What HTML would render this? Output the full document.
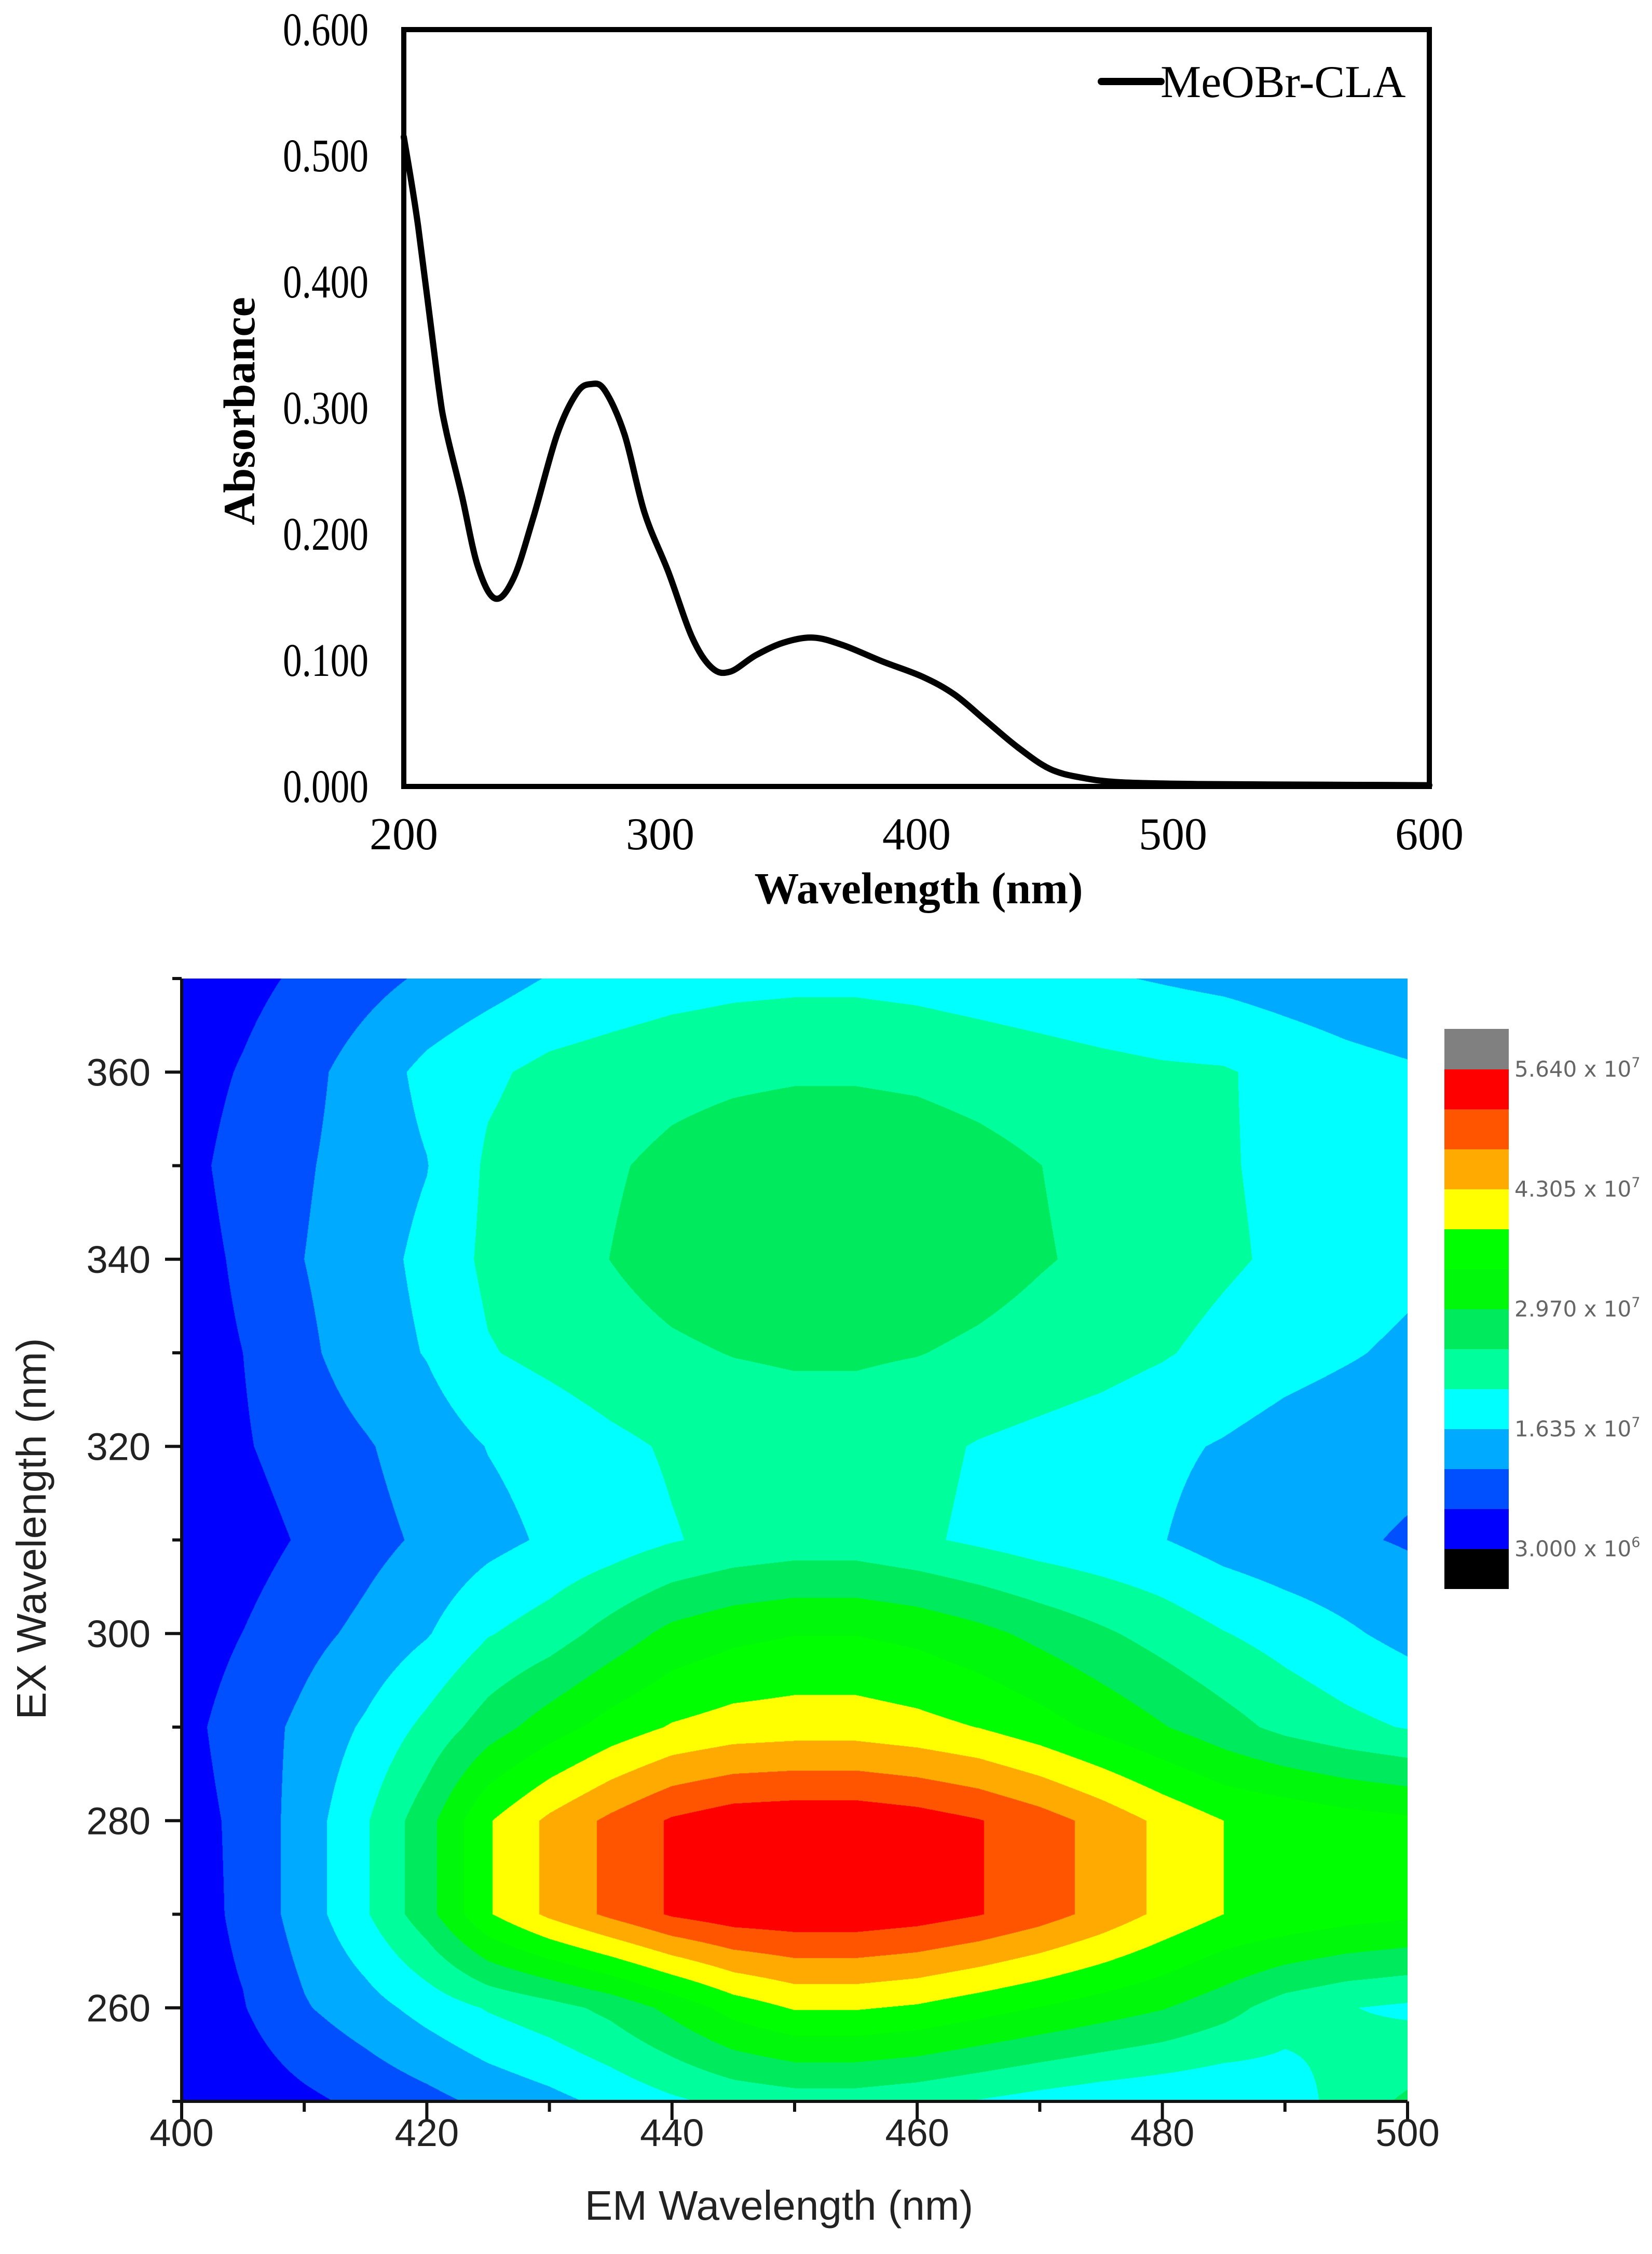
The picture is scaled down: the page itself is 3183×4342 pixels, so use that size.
<!DOCTYPE html>
<html><head><meta charset="utf-8"><style>
html,body{margin:0;padding:0;background:#fff;}
#root{position:relative;width:3183px;height:4342px;overflow:hidden;background:#fff;}
svg{position:absolute;left:0;top:0;}
</style></head><body>
<div id="root">
<svg id="top" width="3183" height="1800"></svg>
<canvas id="map" width="2362" height="2163" style="position:absolute;left:350px;top:1885px;"></canvas>
<svg id="bot" width="3183" height="4342" style="pointer-events:none"></svg>
</div>
<script>
// ---- Absorbance data ----
const wavelengths=[200,205.6,213.3,216.4,222.6,228.8,235.6,242.8,250.5,259.8,267.5,273.1,278.4,286.1,293.9,303.2,312.5,320.2,327.3,337.3,348.1,359.6,371.3,386.8,402.3,414.7,427.1,439.5,451.9,464.3,479.8,510.8,557.3,600];
const absorbance=[0.515,0.444,0.321,0.283,0.231,0.175,0.149,0.165,0.213,0.279,0.312,0.319,0.314,0.279,0.217,0.170,0.118,0.094,0.091,0.104,0.114,0.118,0.112,0.099,0.087,0.073,0.052,0.031,0.014,0.007,0.0033,0.0019,0.0014,0.001];
const yTicks=["0.000","0.100","0.200","0.300","0.400","0.500","0.600"];
const xTicks=["200","300","400","500","600"];
// ---- EEM data (x1e7) ----
const emValues=[400,405,410,415,420,425,430,435,440,445,450,455,460,465,470,475,480,485,490,495,500];
const exValues=[250,260,270,280,290,300,310,320,330,340,350,360,370];
const row250=[.30,.45,.65,.85,1.05,1.3,1.5,1.75,2.0,2.2,2.3,2.3,2.2,2.05,1.9,1.78,1.7,1.65,1.8,2.3,2.6];
const row260=[.5,.72,1.15,1.45,1.8,2.12,2.35,2.65,3.1,3.6,3.9,3.9,3.8,3.6,3.4,3.2,3.0,2.7,2.3,2.1,2.0];
const row270=[.5,.85,1.4,2.03,2.8,3.82,4.4,4.85,5.25,5.45,5.5,5.5,5.4,5.22,4.95,4.6,4.2,3.86,3.75,3.6,3.5];
const row280=[.55,.85,1.4,2.03,2.8,3.82,4.4,4.85,5.25,5.45,5.5,5.5,5.4,5.22,4.95,4.6,4.2,3.86,3.75,3.6,3.5];
const row290=[.6,.95,1.3,1.7,2.2,2.75,3.2,3.6,3.9,4.05,4.1,4.1,4.0,3.85,3.6,3.3,3.0,2.7,2.4,2.2,2.05];
const row300=[.5,.75,1.05,1.3,1.6,2.05,2.3,2.7,3.1,3.3,3.4,3.4,3.3,3.1,2.85,2.6,2.35,2.1,1.9,1.7,1.5];
const row310=[.35,.55,.8,1.05,1.27,1.5,1.7,1.85,2.05,2.2,2.28,2.28,2.15,2.0,1.85,1.75,1.65,1.45,1.33,1.25,1.15];
const row320=[.5,.7,.95,1.15,1.4,1.65,1.8,1.98,2.13,2.25,2.3,2.3,2.2,2.05,1.95,1.85,1.72,1.6,1.45,1.35,1.3];
const row330=[.55,.745,1.1,1.42,1.66,2.05,2.2,2.35,2.46,2.54,2.58,2.58,2.54,2.45,2.35,2.25,2.12,1.95,1.8,1.68,1.55];
const row340=[.55,.82,1.19,1.45,1.75,2.18,2.35,2.53,2.7,2.8,2.85,2.85,2.8,2.7,2.56,2.44,2.3,2.15,2.0,1.88,1.75];
const row350=[.6,.9,1.14,1.4,1.62,2.15,2.32,2.48,2.62,2.72,2.78,2.78,2.74,2.65,2.53,2.4,2.25,2.12,1.98,1.88,1.8];
const row360=[.55,.78,1.05,1.4,1.75,2.0,2.2,2.3,2.4,2.45,2.48,2.48,2.45,2.38,2.3,2.22,2.15,2.12,1.95,1.8,1.7];
const row370=[.5,.62,.82,1.04,1.26,1.45,1.66,1.78,1.88,1.95,1.98,1.98,1.93,1.85,1.77,1.68,1.6,1.52,1.42,1.32,1.22];
const levels=[0.3,0.745,1.19,1.635,2.08,2.525,2.97,3.415,3.86,4.305,4.75,5.195,5.64];
const bandColors=["#000000","#0000ff","#0050ff","#00aaff","#00ffff","#00ff9c","#00ea5e","#00f80a","#00ff00","#ffff00","#ffaa00","#ff5500","#ff0000","#808080"];
const cbLabels=["3.000 x 10","1.635 x 10","2.970 x 10","4.305 x 10","5.640 x 10"];
const cbExps=["6","7","7","7","7"];
const cbLabelLevels=[0.3,1.635,2.97,4.305,5.64];
const mapYTicks=[260,280,300,320,340,360];
const mapXTicks=[400,420,440,460,480,500];

const NS="http://www.w3.org/2000/svg";
function mk(parent,tag,attrs,text){const e=document.createElementNS(NS,tag);for(const k in attrs)e.setAttribute(k,attrs[k]);if(text!==undefined)e.textContent=text;parent.appendChild(e);return e;}

// ---- top chart ----
const T=document.getElementById('top');
const X0=778,X1=2754,Y0=1515,Y1=57;
const sx=w=>X0+(w-200)/400*(X1-X0);
const sy=a=>Y0-a/0.6*(Y0-Y1);
let fr=mk(T,'rect',{x:X0,y:Y1,width:X1-X0,height:Y0-Y1,fill:'none',stroke:'#000','stroke-width':10});

yTicks.forEach((t,i)=>{const e=mk(T,'text',{x:545,y:sy(i*0.1)+30,textLength:165,lengthAdjust:'spacingAndGlyphs','font-family':'Liberation Serif, serif','font-size':90},t);
});
xTicks.forEach((t,i)=>{const e=mk(T,'text',{x:sx(200+i*100),y:1636,'text-anchor':'middle','font-family':'Liberation Serif, serif','font-size':88},t);
});
let xt=mk(T,'text',{x:1770,y:1740,'text-anchor':'middle','font-family':'Liberation Serif, serif','font-size':86,'font-weight':'bold'},'Wavelength (nm)');

let yt=mk(T,'text',{x:0,y:0,transform:'translate(490,792) rotate(-90)','text-anchor':'middle','font-family':'Liberation Serif, serif','font-size':86,'font-weight':'bold'},'Absorbance');

const pts=wavelengths.map((w,i)=>[sx(w),sy(absorbance[i])]);
let d='M'+pts[0][0]+','+pts[0][1];
for(let i=0;i<pts.length-1;i++){const p0=pts[Math.max(0,i-1)],p1=pts[i],p2=pts[i+1],p3=pts[Math.min(pts.length-1,i+2)];
const c1=[p1[0]+(p2[0]-p0[0])/6,p1[1]+(p2[1]-p0[1])/6],c2=[p2[0]-(p3[0]-p1[0])/6,p2[1]-(p3[1]-p1[1])/6];
d+=' C'+c1[0]+','+c1[1]+' '+c2[0]+','+c2[1]+' '+p2[0]+','+p2[1];}
let ln=mk(T,'path',{d:d,fill:'none',stroke:'#000','stroke-width':12,'stroke-linejoin':'round','stroke-linecap':'round'});

let lg=mk(T,'line',{x1:2122,y1:157,x2:2237,y2:157,stroke:'#000','stroke-width':14,'stroke-linecap':'round'});

let lt=mk(T,'text',{x:2236,y:187,'font-family':'Liberation Serif, serif','font-size':88},'MeOBr-CLA');


// ---- contour map ----
const rows=[row250,row260,row270,row280,row290,row300,row310,row320,row330,row340,row350,row360,row370];
const MX0=350,MX1=2712,MY0=4048,MY1=1885;
const mxs=e=>MX0+(e-400)/100*(MX1-MX0);
const mys=v=>MY0-(v-250)/120*(MY0-MY1);
const cv=document.getElementById('map');const ctx=cv.getContext('2d');
const W=cv.width,H=cv.height;const img=ctx.createImageData(W,H);
const rgb=bandColors.map(c=>[parseInt(c.substr(1,2),16),parseInt(c.substr(3,2),16),parseInt(c.substr(5,2),16)]);
const nE=emValues.length,nX=exValues.length;
for(let py=0;py<H;py++){
 const ex=250+(MY0-(MY1+py+0.5))/(MY0-MY1)*120;
 let fj=(ex-exValues[0])/(exValues[nX-1]-exValues[0])*(nX-1);fj=Math.max(0,Math.min(nX-1.0001,fj));
 const j=Math.floor(fj),tj=fj-j;
 for(let px=0;px<W;px++){
  const em=400+(px+0.5)/W*100;
  let fi=(em-emValues[0])/(emValues[nE-1]-emValues[0])*(nE-1);fi=Math.max(0,Math.min(nE-1.0001,fi));
  const i=Math.floor(fi),ti=fi-i;
  const v=(rows[j][i]*(1-ti)+rows[j][i+1]*ti)*(1-tj)+(rows[j+1][i]*(1-ti)+rows[j+1][i+1]*ti)*tj;
  let b=0;while(b<levels.length&&v>=levels[b])b++;
  const c=rgb[b],k=(py*W+px)*4;img.data[k]=c[0];img.data[k+1]=c[1];img.data[k+2]=c[2];img.data[k+3]=255;
 }}
ctx.putImageData(img,0,0);

const B=document.getElementById('bot');
let ax=mk(B,'path',{d:`M${MX0},${MY1} L${MX0},${MY0} L${MX1},${MY0}`,fill:'none',stroke:'#111','stroke-width':6});

for(let v=250;v<=370;v+=10){const major=(v%20===0);const t=mk(B,'line',{x1:MX0,x2:MX0-(major?32:18),y1:mys(v),y2:mys(v),stroke:'#111','stroke-width':6});
}
for(let v=400;v<=500;v+=10){const major=(v%20===0);const t=mk(B,'line',{x1:mxs(v),x2:mxs(v),y1:MY0,y2:MY0+(major?36:20),stroke:'#111','stroke-width':6});
}
mapYTicks.forEach(v=>{const e=mk(B,'text',{x:290,y:mys(v)+26,'text-anchor':'end','font-family':'Liberation Sans, sans-serif','font-size':74,fill:'#222'},String(v));
});
mapXTicks.forEach(v=>{const e=mk(B,'text',{x:mxs(v),y:4134,'text-anchor':'middle','font-family':'Liberation Sans, sans-serif','font-size':74,fill:'#222'},String(v));
});
let mxt=mk(B,'text',{x:1501,y:4276,'text-anchor':'middle','font-family':'Liberation Sans, sans-serif','font-size':80,fill:'#222'},'EM Wavelength (nm)');

let myt=mk(B,'text',{x:0,y:0,transform:'translate(88,2945) rotate(-90)','text-anchor':'middle','font-family':'Liberation Sans, sans-serif','font-size':80,fill:'#222'},'EX Wavelength (nm)');

// colorbar
const CB0=1982,CBH=77,CBX=2783,CBW=124,NB=bandColors.length;
bandColors.forEach((c,k)=>{const r=mk(B,'rect',{x:CBX,y:CB0+(NB-1-k)*CBH,width:CBW,height:CBH+1,fill:c});
});
const cbY=lv=>CB0+(NB-1-(levels.indexOf(lv)+1))*CBH+CBH;
cbLabels.forEach((t,k)=>{const y=cbY(cbLabelLevels[k]);const e=mk(B,'text',{x:2918,y:y+15,'font-family':'DejaVu Sans, sans-serif','font-size':42,fill:'#666'},t);

mk(e,'tspan',{dy:-18,'font-size':27},cbExps[k]);});
</script>
</body></html>
